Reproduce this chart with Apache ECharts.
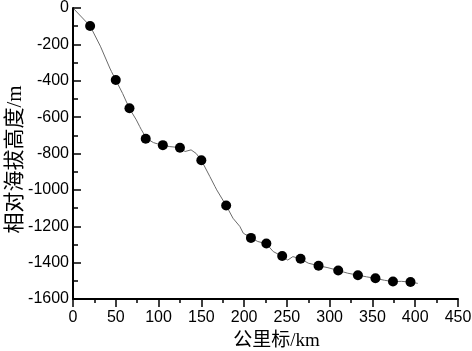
<!DOCTYPE html>
<html>
<head>
<meta charset="utf-8">
<script src="https://cdn.jsdelivr.net/npm/echarts@6/dist/echarts.min.js"></script>
<style>
html,body{margin:0;padding:0;background:#fff;}
#main{width:472px;height:351px;}
</style>
</head>
<body>
<div id="main"></div>
<script>
// profile line (km, relative altitude m)
var lineKm = [1, 20, 32, 43, 45, 50, 58, 66, 74, 78, 80, 86, 94, 104, 113, 124, 131, 138, 144, 150, 160, 166, 168, 179, 187, 195, 199, 208, 216, 226, 234, 244, 251, 257, 266, 275, 287, 298, 310, 321, 333, 343, 353, 364, 374, 384, 394, 403];
var lineAlt = [-5, -99, -210, -330, -350, -396, -470, -553, -615, -652, -670, -718, -740, -755, -762, -767, -789, -780, -800, -837, -927, -982, -1000, -1086, -1156, -1201, -1238, -1264, -1284, -1296, -1339, -1364, -1386, -1367, -1379, -1403, -1417, -1428, -1443, -1458, -1469, -1478, -1486, -1497, -1504, -1503, -1507, -1514];

// station points
var dotKm = [20, 50, 66, 85, 105, 125, 150, 179, 208, 226, 244.5, 266, 287, 310, 333, 353.5, 374, 394.5];
var dotAlt = [-99, -396, -551, -719, -754, -768, -837, -1086, -1264, -1295, -1364, -1379, -1417, -1443, -1469, -1486, -1504, -1507];

var chart = echarts.init(document.getElementById('main'));

function pairs(xs, ys) {
  return xs.map(function (x, i) { return [x, ys[i]]; });
}

var option = {
  animation: false,
  grid: { left: 73, right: 14, top: 8, bottom: 52, outerBoundsMode: 'none', containLabel: false },
  xAxis: {
    type: 'value',
    min: 0, max: 450, interval: 50,
    name: '公里标/km',
    nameLocation: 'middle',
    nameGap: 33,
    nameMoveOverlap: false,
    nameTextStyle: { fontSize: 19, color: '#000', fontFamily: 'Liberation Serif, Noto Sans CJK SC', padding: [0, 0, 0, 22] },
    axisLine: { onZero: false, lineStyle: { color: '#000', width: 2 } },
    axisTick: { length: 8, lineStyle: { color: '#000', width: 1.5 } },
    minorTick: { show: true, splitNumber: 2, length: 4, lineStyle: { color: '#000', width: 1.5 } },
    axisLabel: { fontSize: 16, color: '#000', fontFamily: 'Liberation Sans', margin: 11, formatter: function (v) { return String(v); } },
    splitLine: { show: false }
  },
  yAxis: {
    type: 'value',
    min: -1600, max: 0, interval: 200,
    name: '相对海拔高度/m',
    nameLocation: 'middle',
    nameGap: 47,
    nameMoveOverlap: false,
    nameTextStyle: { fontSize: 21, color: '#000', fontFamily: 'Liberation Serif, Noto Sans CJK SC', padding: [0, 12, 0, 0] },
    axisLine: { onZero: false, lineStyle: { color: '#000', width: 2 } },
    axisTick: { inside: true, length: 8, lineStyle: { color: '#000', width: 1.5 } },
    minorTick: { show: true, splitNumber: 2, length: 5, lineStyle: { color: '#000', width: 1.5 } },
    axisLabel: { fontSize: 16, color: '#000', fontFamily: 'Liberation Sans', margin: 4, formatter: function (v) { return String(v); } },
    splitLine: { show: false }
  },
  series: [
    {
      type: 'line',
      data: pairs(lineKm, lineAlt),
      showSymbol: false,
      symbol: 'none',
      lineStyle: { color: '#6b6b6b', width: 1 },
      z: 2
    },
    {
      type: 'scatter',
      data: pairs(dotKm, dotAlt),
      symbol: 'circle',
      symbolSize: 10,
      itemStyle: { color: '#000', opacity: 1 },
      z: 3
    }
  ]
};

chart.setOption(option);
</script>
</body>
</html>
